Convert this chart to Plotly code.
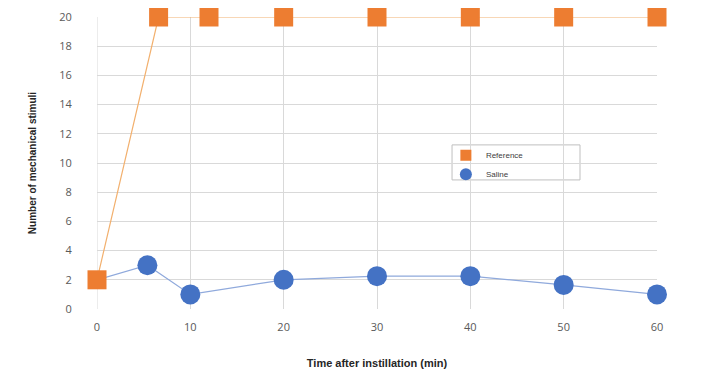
import plotly.graph_objects as go

ref_x = [0, 6.6, 12, 20, 30, 40, 50, 60]
ref_y = [2, 20, 20, 20, 20, 20, 20, 20]
sal_x = [0, 5.4, 10, 20, 30, 40, 50, 60]
sal_y = [2, 3, 1, 2, 2.25, 2.25, 1.65, 1]
x_ticks = [0, 10, 20, 30, 40, 50, 60]
y_ticks = [0, 2, 4, 6, 8, 10, 12, 14, 16, 18, 20]

REF_C = "#ED7D31"
SAL_C = "#4472C4"

# the first saline point lies hidden under the reference square
sal_sizes = [0] + [20] * (len(sal_x) - 1)

fig = go.Figure()
fig.add_trace(go.Scatter(
    x=sal_x, y=sal_y, name="Saline", mode="lines+markers",
    line=dict(color="#8FA9DC", width=1.2),
    marker=dict(symbol="circle", size=sal_sizes, color=SAL_C, opacity=1,
                line=dict(width=0)),
    cliponaxis=False, showlegend=False))
fig.add_trace(go.Scatter(
    x=ref_x, y=ref_y, name="Reference", mode="lines+markers",
    line=dict(color="#F2B06E", width=1.2),
    marker=dict(symbol="square", size=19, color=REF_C, opacity=1,
                line=dict(width=0)),
    cliponaxis=False, showlegend=False))
# legend entries (markers only, as in the reference)
fig.add_trace(go.Scatter(x=[None], y=[None], name="Reference", mode="markers",
                         marker=dict(symbol="square", size=11, color=REF_C, line=dict(width=0)),
                         legendrank=1))
fig.add_trace(go.Scatter(x=[None], y=[None], name="Saline", mode="markers",
                         marker=dict(symbol="circle", size=12, color=SAL_C, line=dict(width=0)),
                         legendrank=2))

fig.update_layout(
    width=702, height=377,
    margin=dict(l=89, r=53, t=9, b=76),
    paper_bgcolor="white", plot_bgcolor="white",
    font=dict(family="Open Sans, Liberation Sans, sans-serif", color="#595959", size=11),
    showlegend=True,
    legend=dict(x=0.623, y=0.576, xanchor="left", yanchor="top",
                borderwidth=0, bgcolor="rgba(0,0,0,0)",
                font=dict(size=8, family="Liberation Sans, Arial, sans-serif", color="#404040"),
                itemsizing="trace", tracegroupgap=0, itemwidth=30),
    xaxis=dict(range=[0, 60], tickvals=x_ticks, showgrid=True, gridcolor="#D9D9D9",
               gridwidth=1, zeroline=False, showline=False, automargin=False,
               ticks="outside", ticklen=8, tickcolor="rgba(0,0,0,0)",
               title=dict(text="<b>Time after instillation (min)</b>", standoff=26,
                          font=dict(family="Liberation Sans, Arial, sans-serif", size=11, color="#262626"))),
    yaxis=dict(range=[0, 20], tickvals=y_ticks, showgrid=True, gridcolor="#D9D9D9",
               gridwidth=1, zeroline=False, showline=False, automargin=False,
               ticks="outside", ticklen=22, tickcolor="rgba(0,0,0,0)",
               title=dict(text="<b>Number of mechanical stimuli</b>", standoff=20,
                          font=dict(family="Liberation Sans, Arial, sans-serif", size=10, color="#262626"))),
)
fig.add_shape(type="line", xref="x", yref="y", x0=0, x1=0, y0=0, y1=20,
              line=dict(color="#D9D9D9", width=1), layer="below")
# legend frame
fig.add_shape(type="rect", xref="paper", yref="paper", x0=0.634, x1=0.8625, y0=0.442, y1=0.562,
              line=dict(color="#BFBFBF", width=1), fillcolor="white", layer="below")
fig.write_html("out.html")
